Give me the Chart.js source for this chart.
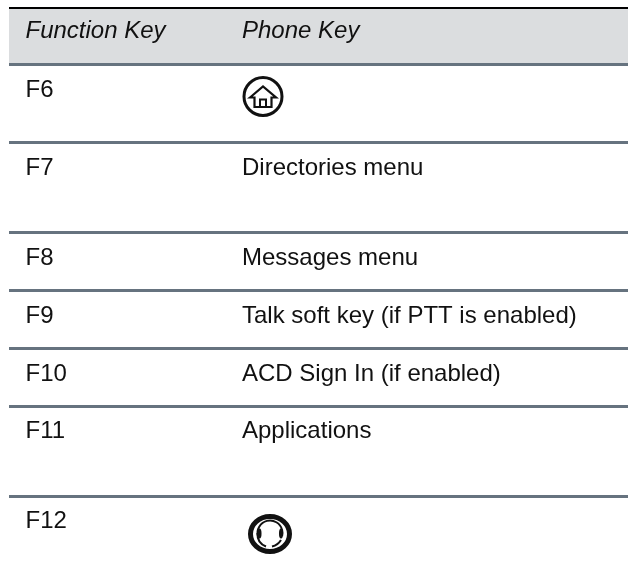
<!DOCTYPE html>
<html><head><meta charset="utf-8">
<style>html,body{margin:0;padding:0;background:#fff}canvas{display:block}</style>
<script src="https://cdn.jsdelivr.net/npm/chart.js@4"></script>
</head><body><canvas id="c" width="628" height="584"></canvas>
<script>
const headers = ["Function Key", "Phone Key"];
const functionKeys = ["F6", "F7", "F8", "F9", "F10", "F11", "F12"];
const phoneKeys = ["@home", "Directories menu", "Messages menu", "Talk soft key (if PTT is enabled)", "ACD Sign In (if enabled)", "Applications", "@headset"];
// table geometry on the page-sized value axes
const rowRules = [64.5, 142.5, 232.5, 290.5, 348.5, 406.5, 496.5];
const rowBaselines = [97, 174.5, 265, 323, 380.5, 438, 528];
const headerBaseline = 38;
const colX = [25.5, 242];
const tableLeft = 9, tableRight = 628;
const FONT = '"Liberation Sans", Arial, sans-serif';

function rule(y, color, w) {
  return {type:'line', data:[{x:tableLeft,y},{x:tableRight,y}], borderColor:color, borderWidth:w, pointRadius:0, fill:false, order:1};
}
const textPlugin = {
  id:'tableText',
  afterDatasetsDraw(chart){
    const {ctx, scales:{x,y}} = chart;
    ctx.save();
    ctx.fillStyle = '#111';
    ctx.textBaseline = 'alphabetic';
    ctx.font = 'italic 24px ' + FONT;
    headers.forEach((h,i)=>ctx.fillText(h, x.getPixelForValue(colX[i]), y.getPixelForValue(headerBaseline)));
    ctx.font = '24px ' + FONT;
    functionKeys.forEach((k,i)=>ctx.fillText(k, x.getPixelForValue(colX[0]), y.getPixelForValue(rowBaselines[i])));
    phoneKeys.forEach((k,i)=>{
      if(k[0]==='@'){ return; }
      ctx.fillText(k, x.getPixelForValue(colX[1]), y.getPixelForValue(rowBaselines[i]));
    });
    // icons
    ctx.filter = 'blur(0.6px)';
    drawHome(ctx, x.getPixelForValue(263), y.getPixelForValue(96.5));
    drawHeadset(ctx, x.getPixelForValue(270), y.getPixelForValue(534));
    ctx.restore();
  }
};
function drawHome(c,cx,cy){
  c.save(); c.translate(cx,cy);
  c.strokeStyle='#111'; c.lineWidth=3;
  c.beginPath(); c.arc(0,0,19,0,Math.PI*2); c.stroke();
  c.lineWidth=2.2; c.lineJoin='miter';
  c.beginPath(); c.moveTo(-13,1); c.lineTo(0,-10); c.lineTo(13,1); c.lineTo(8.5,1); c.lineTo(8.5,10.5); c.lineTo(-8.5,10.5); c.lineTo(-8.5,1); c.closePath(); c.stroke();
  c.lineWidth=2;
  c.beginPath(); c.moveTo(-3,10.5); c.lineTo(-3,3); c.lineTo(3,3); c.lineTo(3,10.5); c.stroke();
  c.restore();
}
function drawHeadset(c,cx,cy){
  c.save(); c.translate(cx,cy);
  c.strokeStyle='#111'; c.lineWidth=5;
  c.beginPath(); c.ellipse(0,0,19.5,17.5,0,0,Math.PI*2); c.stroke();
  c.lineWidth=2;
  c.beginPath(); c.arc(0,-1,12.5,-1.08*Math.PI,0.08*Math.PI); c.stroke();
  c.beginPath(); c.moveTo(-12.5,-1); c.quadraticCurveTo(-13,9,-4,12.5); c.stroke();
  c.beginPath(); c.moveTo(11,6); c.quadraticCurveTo(8,11,2,12.5); c.stroke();
  c.fillStyle='#111';
  c.beginPath(); c.ellipse(-10.5,-0.5,2,5,0,0,Math.PI*2); c.fill();
  c.beginPath(); c.ellipse(11,-0.5,2,5,0,0,Math.PI*2); c.fill();
  c.restore();
}
new Chart(document.getElementById('c'),{
  type:'scatter',
  data:{datasets:[
    {type:'line',label:'headerTop',data:[{x:tableLeft,y:8},{x:tableRight,y:8}],borderColor:'#000',borderWidth:2,pointRadius:0,fill:{target:'+1',above:'#DBDDDF',below:'#DBDDDF'},order:2},
    ...rowRules.map(y=>rule(y,'#66737F',3))
  ]},
  options:{
    responsive:false, animation:false,
    layout:{padding:0},
    plugins:{legend:{display:false},tooltip:{enabled:false},title:{display:false}},
    scales:{
      x:{type:'linear',min:0,max:628,display:false},
      y:{type:'linear',min:0,max:584,reverse:true,display:false}
    }
  },
  plugins:[textPlugin]
});
</script></body></html>
